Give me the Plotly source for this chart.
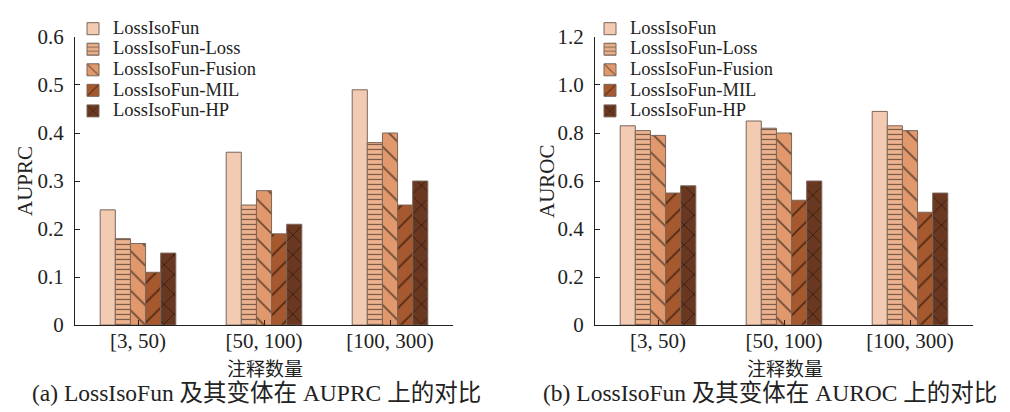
import plotly.graph_objects as go

categories = ["[3, 50)", "[50, 100)", "[100, 300)"]
series_names = ["LossIsoFun", "LossIsoFun-Loss", "LossIsoFun-Fusion", "LossIsoFun-MIL", "LossIsoFun-HP"]
auprc_base = [0.24, 0.36, 0.49]
auprc_loss = [0.18, 0.25, 0.38]
auprc_fusion = [0.17, 0.28, 0.40]
auprc_mil = [0.11, 0.19, 0.25]
auprc_hp = [0.15, 0.21, 0.30]
auroc_base = [0.83, 0.85, 0.89]
auroc_loss = [0.81, 0.82, 0.83]
auroc_fusion = [0.79, 0.80, 0.81]
auroc_mil = [0.55, 0.52, 0.47]
auroc_hp = [0.58, 0.60, 0.55]
auprc_ticks = [0, 0.1, 0.2, 0.3, 0.4, 0.5, 0.6]
auprc_ticklabels = ["0", "0.1", "0.2", "0.3", "0.4", "0.5", "0.6"]
auroc_ticks = [0, 0.2, 0.4, 0.6, 0.8, 1.0, 1.2]
auroc_ticklabels = ["0", "0.2", "0.4", "0.6", "0.8", "1.0", "1.2"]

colors = ["#F2CBB2", "#EDB38E", "#E0986C", "#A6582E", "#6A3820"]
shapes = ["", "-", "\\", "/", "x"]
psizes = [8, 5, 14, 14, 14]
psolid = [0.2, 0.24, 0.13, 0.13, 0.12]

SERIF = "Liberation Serif, Times New Roman, serif"
CJK = "Noto Sans CJK SC"
TXT = "#222222"

fig = go.Figure()
left = [auprc_base, auprc_loss, auprc_fusion, auprc_mil, auprc_hp]
right = [auroc_base, auroc_loss, auroc_fusion, auroc_mil, auroc_hp]
for i, name in enumerate(series_names):
    label = "<span style='font-size:18.5px'>" + name + "</span>"
    for vals, xa, ya, lg in [(left[i], "x", "y", "legend"), (right[i], "x2", "y2", "legend2")]:
        fig.add_trace(go.Bar(
            x=categories, y=vals, name=label, xaxis=xa, yaxis=ya, legend=lg,
            marker=dict(color=colors[i], line=dict(color="#7a665a", width=1),
                        pattern=dict(shape=shapes[i], fgcolor="#000000", size=psizes[i],
                                     solidity=psolid[i])),
        ))

W, H = 1010, 412
def px(xp):
    return xp / W
def py(yp):
    return 1 - yp / H

axis_common = dict(showline=True, linecolor="#222222", linewidth=1.2, ticks="inside",
                   ticklen=5, tickcolor="#222222", showgrid=False, zeroline=False,
                   tickfont=dict(family=SERIF, size=21, color=TXT))

fig.update_layout(
    width=W, height=H, margin=dict(l=0, r=0, t=0, b=0),
    plot_bgcolor="white", paper_bgcolor="white",
    barmode="group", bargap=0.4, bargroupgap=0,
    xaxis=dict(domain=[px(67), px(445)], anchor="y", ticklabelstandoff=-3, **axis_common),
    yaxis=dict(domain=[py(324), py(18)], anchor="x", range=[0, 0.6], tickvals=auprc_ticks,
               ticktext=auprc_ticklabels, ticklabelstandoff=6, **axis_common),
    xaxis2=dict(domain=[px(587), px(965)], anchor="y2", ticklabelstandoff=-3, **axis_common),
    yaxis2=dict(domain=[py(324), py(18)], anchor="x2", range=[0, 1.2], tickvals=auroc_ticks,
                ticktext=auroc_ticklabels, ticklabelstandoff=6, **axis_common),
    legend=dict(x=px(65), y=py(-7), xanchor="left", yanchor="top", bgcolor="rgba(0,0,0,0)",
                font=dict(family=SERIF, size=13.5, color=TXT), tracegroupgap=0),
    legend2=dict(x=px(582), y=py(-7), xanchor="left", yanchor="top", bgcolor="rgba(0,0,0,0)",
                 font=dict(family=SERIF, size=13.5, color=TXT), tracegroupgap=0),
    showlegend=True,
)

ann = [
    dict(text="AUPRC", x=px(17), y=py(171), textangle=-90, font=dict(family=SERIF, size=21)),
    dict(text="AUROC", x=px(539), y=py(171), textangle=-90, font=dict(family=SERIF, size=21)),
    dict(text="注释数量", x=px(257), y=py(369), font=dict(family=CJK, size=19)),
    dict(text="注释数量", x=px(777), y=py(369), font=dict(family=CJK, size=19)),
    dict(text="(a) LossIsoFun 及其变体在 AUPRC 上的对比", x=px(248), y=py(396),
         font=dict(family=SERIF + ", " + CJK, size=23.5)),
    dict(text="(b) LossIsoFun 及其变体在 AUROC 上的对比", x=px(762), y=py(396),
         font=dict(family=SERIF + ", " + CJK, size=23.5)),
]
for a in ann:
    a.update(xref="paper", yref="paper", showarrow=False, xanchor="center", yanchor="middle")
    a["font"]["color"] = TXT
    fig.add_annotation(**a)

fig.write_html("out.html")
